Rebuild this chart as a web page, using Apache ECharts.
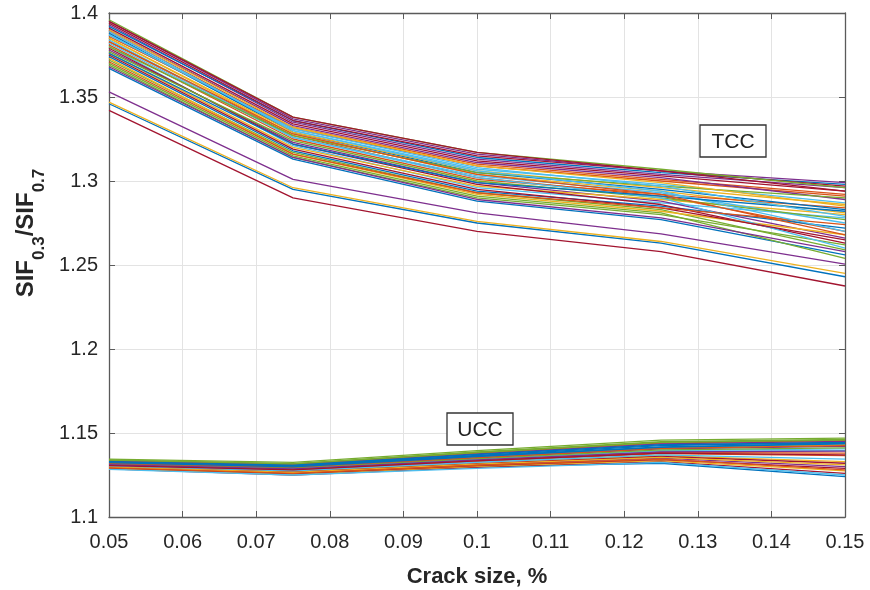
<!DOCTYPE html>
<html>
<head>
<meta charset="utf-8">
<script src="https://cdn.jsdelivr.net/npm/echarts@6/dist/echarts.min.js"></script>
<style>
  html, body { margin: 0; padding: 0; background: #fff; }
  #chart { width: 870px; height: 590px; }
</style>
</head>
<body>
<div id="chart"></div>
<script>
// crack sizes, %
const crackSize = [0.05, 0.075, 0.1, 0.125, 0.15];

// TCC curves (SIF0.3/SIF0.7 at each crack size)
const tccRows = [
  [1.346, 1.295, 1.275, 1.263, 1.243],
  [1.383, 1.327, 1.302, 1.291, 1.270],
  [1.347, 1.296, 1.276, 1.264, 1.245],
  [1.353, 1.301, 1.281, 1.2685, 1.2505],
  [1.369, 1.314, 1.290, 1.280, 1.262],
  [1.380, 1.321, 1.296, 1.287, 1.278],
  [1.342, 1.290, 1.270, 1.258, 1.2375],
  [1.367, 1.313, 1.288, 1.277, 1.256],
  [1.389, 1.331, 1.309, 1.300, 1.291],
  [1.385, 1.328, 1.304, 1.294, 1.281],
  [1.378, 1.323, 1.299, 1.288, 1.266],
  [1.372, 1.317, 1.293, 1.283, 1.259],
  [1.387, 1.330, 1.307, 1.298, 1.287],
  [1.391, 1.334, 1.312, 1.303, 1.294],
  [1.374, 1.318, 1.294, 1.285, 1.272],
  [1.381, 1.325, 1.301, 1.292, 1.284],
  [1.376, 1.320, 1.297, 1.289, 1.280],
  [1.393, 1.335, 1.313, 1.304, 1.296],
  [1.370, 1.315, 1.291, 1.281, 1.254],
  [1.384, 1.326, 1.303, 1.293, 1.275],
  [1.379, 1.322, 1.298, 1.286, 1.263],
  [1.388, 1.329, 1.305, 1.295, 1.283],
  [1.386, 1.332, 1.310, 1.301, 1.292],
  [1.373, 1.316, 1.292, 1.282, 1.268],
  [1.390, 1.333, 1.311, 1.302, 1.289],
  [1.377, 1.324, 1.300, 1.290, 1.277],
  [1.382, 1.326, 1.302, 1.290, 1.260],
  [1.375, 1.319, 1.295, 1.284, 1.265],
  [1.392, 1.336, 1.314, 1.305, 1.298],
  [1.371, 1.316, 1.293, 1.284, 1.274],
  [1.385, 1.329, 1.306, 1.296, 1.286],
  [1.368, 1.314, 1.289, 1.278, 1.258],
  [1.380, 1.327, 1.305, 1.297, 1.290],
  [1.389, 1.330, 1.306, 1.294, 1.270],
  [1.394, 1.336, 1.315, 1.306, 1.297],
  [1.376, 1.322, 1.299, 1.291, 1.282],
  [1.383, 1.328, 1.304, 1.292, 1.268],
  [1.390, 1.332, 1.309, 1.299, 1.285],
  [1.395, 1.337, 1.316, 1.306, 1.299],
  [1.396, 1.338, 1.317, 1.307, 1.296],
  [1.387, 1.331, 1.308, 1.297, 1.279],
  [1.395, 1.338, 1.317, 1.306, 1.294]
];

// UCC curves
const uccRows = [
  [1.1290, 1.1255, 1.1300, 1.1320, 1.1240],
  [1.1335, 1.1310, 1.1380, 1.1440, 1.1455],
  [1.1300, 1.1270, 1.1325, 1.1365, 1.1330],
  [1.1318, 1.1295, 1.1352, 1.1405, 1.1420],
  [1.1345, 1.1325, 1.1395, 1.1458, 1.1470],
  [1.1310, 1.1285, 1.1340, 1.1390, 1.1395],
  [1.1286, 1.1250, 1.1295, 1.1330, 1.1260],
  [1.1328, 1.1305, 1.1366, 1.1425, 1.1445],
  [1.1305, 1.1278, 1.1330, 1.1378, 1.1365],
  [1.1322, 1.1300, 1.1358, 1.1412, 1.1430],
  [1.1295, 1.1262, 1.1312, 1.1350, 1.1300],
  [1.1340, 1.1318, 1.1388, 1.1448, 1.1462],
  [1.1313, 1.1289, 1.1344, 1.1395, 1.1405],
  [1.1299, 1.1268, 1.1318, 1.1360, 1.1320],
  [1.1325, 1.1302, 1.1362, 1.1418, 1.1438],
  [1.1308, 1.1282, 1.1336, 1.1384, 1.1380],
  [1.1288, 1.1254, 1.1302, 1.1335, 1.1275],
  [1.1333, 1.1313, 1.1376, 1.1435, 1.1450],
  [1.1316, 1.1292, 1.1348, 1.1400, 1.1412],
  [1.1302, 1.1274, 1.1326, 1.1370, 1.1345],
  [1.1292, 1.1259, 1.1306, 1.1342, 1.1290],
  [1.1330, 1.1308, 1.1372, 1.1430, 1.1442],
  [1.1320, 1.1297, 1.1354, 1.1408, 1.1425],
  [1.1297, 1.1265, 1.1315, 1.1355, 1.1310],
  [1.1311, 1.1286, 1.1340, 1.1388, 1.1392],
  [1.1338, 1.1316, 1.1384, 1.1444, 1.1458],
  [1.1284, 1.1250, 1.1290, 1.1325, 1.1250],
  [1.1306, 1.1280, 1.1334, 1.1380, 1.1370],
  [1.1324, 1.1298, 1.1360, 1.1415, 1.1435],
  [1.1293, 1.1260, 1.1308, 1.1345, 1.1280]
];

const groupLabels = ['TCC', 'UCC'];

// matlab default line colours
const palette = ['#0072BD', '#D95319', '#EDB120', '#7E2F8E', '#77AC30', '#4DBEEE', '#A2142F'];

const fontFamily = '"Liberation Sans", Arial, Helvetica, sans-serif';
const axisColor = '#5a5a5a';
const fmt = v => String(parseFloat(v.toFixed(3)));

const toSeries = (rows, prefix) => rows.map((row, i) => ({
    name: prefix + (i + 1),
    type: 'line',
    data: row.map((v, j) => [crackSize[j], v]),
    symbol: 'none',
    silent: true,
    lineStyle: { width: 1.3 }
}));

const baseX = {
    type: 'value',
    min: 0.05,
    max: 0.15,
    interval: 0.01,
    axisLine: { show: true, onZero: false, lineStyle: { color: axisColor, width: 1.3 } },
    axisTick: { show: true, inside: true, length: 6, lineStyle: { color: axisColor } }
};
const baseY = {
    type: 'value',
    min: 1.1,
    max: 1.4,
    interval: 0.05,
    axisLine: { show: true, onZero: false, lineStyle: { color: axisColor, width: 1.3 } },
    axisTick: { show: true, inside: true, length: 6, lineStyle: { color: axisColor } }
};

// text label in a white box, drawn above the curves and grid
const boxText = (text, x, y) => ([{
    type: 'rect',
    z: 100,
    shape: { x: x, y: y, width: 66, height: 32 },
    style: { fill: '#fff', stroke: '#333', lineWidth: 1.3 }
}, {
    type: 'text',
    z: 101,
    x: x + 33,
    y: y + 17,
    style: {
        text: text,
        font: '21px ' + fontFamily,
        fill: '#222',
        textAlign: 'center',
        textVerticalAlign: 'middle'
    }
}]);

const chart = echarts.init(document.getElementById('chart'));
chart.setOption({
    animation: false,
    color: palette,
    grid: { left: 109, right: 25, top: 13, bottom: 73, outerBoundsMode: 'none' },
    xAxis: [Object.assign({}, baseX, {
        position: 'bottom',
        name: 'Crack size, %',
        nameLocation: 'middle',
        nameGap: 49,
        nameTextStyle: { fontSize: 22, fontWeight: 'bold', color: '#262626', fontFamily: fontFamily },
        axisLabel: { fontSize: 20, color: '#262626', margin: 15, fontFamily: fontFamily, formatter: fmt },
        splitLine: { show: true, lineStyle: { color: '#e3e3e3', width: 1 } }
    }), Object.assign({}, baseX, {
        position: 'top',
        axisLabel: { show: false },
        splitLine: { show: false }
    })],
    yAxis: [Object.assign({}, baseY, {
        position: 'left',
        axisLabel: { fontSize: 20, color: '#262626', margin: 11, fontFamily: fontFamily, formatter: fmt },
        splitLine: { show: true, lineStyle: { color: '#e3e3e3', width: 1 } }
    }), Object.assign({}, baseY, {
        position: 'right',
        axisLabel: { show: false },
        splitLine: { show: false }
    })],
    graphic: [
        {
            type: 'text',
            x: 31,
            y: 233,
            rotation: Math.PI / 2,
            style: {
                text: '{a|SIF}{s|0.3}{a|/SIF}{s|0.7}',
                textAlign: 'center',
                textVerticalAlign: 'middle',
                rich: {
                    a: { fontSize: 24, fontWeight: 'bold', fontFamily: fontFamily, fill: '#262626', lineHeight: 34, verticalAlign: 'top' },
                    s: { fontSize: 17, fontWeight: 'bold', fontFamily: fontFamily, fill: '#262626', lineHeight: 20, verticalAlign: 'bottom' }
                }
            }
        }
    ].concat(boxText(groupLabels[0], 700, 125), boxText(groupLabels[1], 447, 413)),
    series: toSeries(tccRows, 'TCC ').concat(toSeries(uccRows, 'UCC '))
});
</script>
</body>
</html>
